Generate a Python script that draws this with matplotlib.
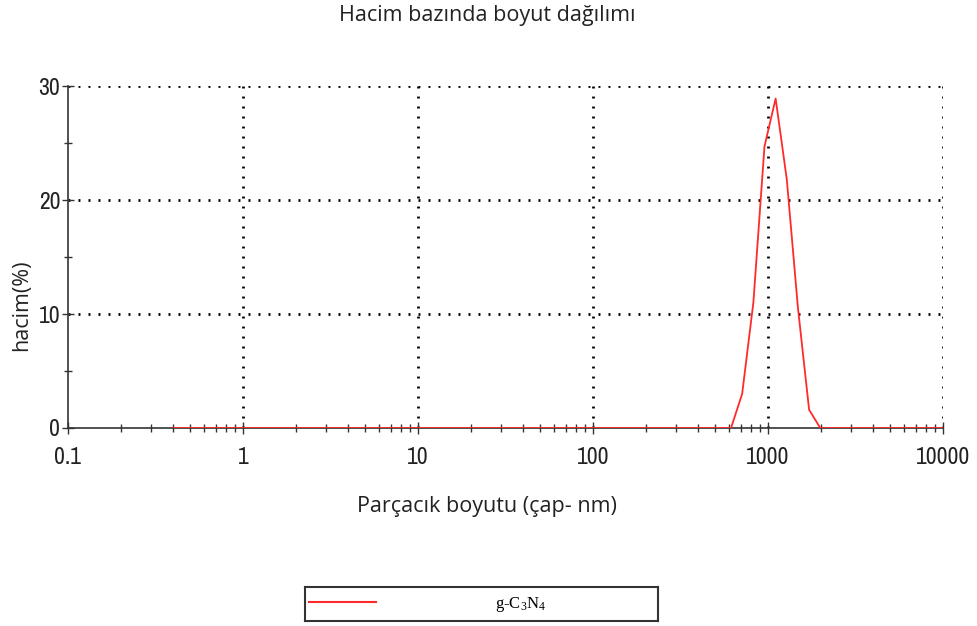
"""Volume-based size distribution (DLS) for g-C3N4."""
import matplotlib
matplotlib.use("Agg")
import matplotlib.pyplot as plt
from matplotlib.ticker import FixedLocator, FixedFormatter, LogLocator, NullFormatter

# data
size_nm = [0.4, 615, 712, 825, 955, 1106, 1281, 1484, 1718, 1990, 10000]
volume_pct = [0, 0, 3.0, 11.0, 24.7, 28.9, 21.8, 10.5, 1.6, 0, 0]
x_ticks = [0.1, 1, 10, 100, 1000, 10000]
x_tick_labels = ["0.1", "1", "10", "100", "1000", "10000"]
y_ticks = [0, 10, 20, 30]
sample_name = r"g-$\mathregular{C_3N_4}$"

tick_font = ["Liberation Sans Narrow", "Arial Narrow", "Archivo Narrow", "Roboto Condensed",
             "PT Sans Narrow", "Liberation Sans"]
label_font = ["Open Sans", "DejaVu Sans"]

fig = plt.figure(figsize=(9.78, 6.26), dpi=100)
ax = fig.add_axes([0.0695, 0.3163, 0.8947, 0.5463])

ax.plot(size_nm, volume_pct, color="#ff2a2a", lw=1.3, zorder=3)
ax.set_xscale("log")
ax.set_xlim(0.1, 10000)
ax.set_ylim(0, 30)

ax.xaxis.set_major_locator(FixedLocator(x_ticks))
ax.xaxis.set_major_formatter(FixedFormatter(x_tick_labels))
ax.xaxis.set_minor_locator(LogLocator(base=10, subs=range(2, 10), numticks=20))
ax.xaxis.set_minor_formatter(NullFormatter())
ax.yaxis.set_major_locator(FixedLocator(y_ticks))
ax.yaxis.set_minor_locator(FixedLocator([5, 15, 25]))

ax.tick_params(which="both", direction="inout", color="#333333", width=1.0, labelsize=17,
               labelcolor="#222222")
ax.tick_params(which="major", length=8)
ax.tick_params(which="minor", length=6)
ax.tick_params(axis="x", which="major", pad=10)
ax.tick_params(axis="y", which="major", pad=1.5)
for lab in ax.get_xticklabels() + ax.get_yticklabels():
    lab.set_family(tick_font)
    lab.set_fontweight("light")

ax.grid(True, which="major", color="black", lw=2.0, linestyle=(0, (0.7, 2.9)))
ax.set_axisbelow(True)
# no dotted grid on top of the solid axes lines
ax.xaxis.get_gridlines()[0].set_visible(False)
ax.yaxis.get_gridlines()[0].set_visible(False)
for side in ["top", "right"]:
    ax.spines[side].set_visible(False)
for side in ["left", "bottom"]:
    ax.spines[side].set_color("#333333")
    ax.spines[side].set_linewidth(1.2)
    ax.spines[side].set_zorder(2)

fig.text(0.498, 0.976, "Hacim bazında boyut dağılımı", ha="center", va="center",
         fontsize=15.5, family=label_font, color="#222222")
ax.set_xlabel("Parçacık boyutu (çap- nm)", fontsize=15.5, family=label_font, color="#222222")
ax.xaxis.set_label_coords(0.479, -0.231)
ax.xaxis.label.set_va("center")
ax.set_ylabel("hacim(%)", fontsize=15.5, family=label_font, color="#222222")
ax.yaxis.set_label_coords(-0.0526, 0.36)
ax.yaxis.label.set_va("center")

# legend box
lax = fig.add_axes([0.312, 0.008, 0.361, 0.054])
lax.set_xlim(0, 1)
lax.set_ylim(0, 1)
lax.set_xticks([])
lax.set_yticks([])
for sp in lax.spines.values():
    sp.set_linewidth(1.5)
    sp.set_color("#333333")
lax.plot([0.01, 0.2], [0.55, 0.55], color="#ff2a2a", lw=1.5)
lax.text(0.61, 0.5, sample_name, ha="center", va="center", fontsize=12,
         family=["Liberation Serif", "DejaVu Serif"])

fig.savefig("out.png", dpi=100)
